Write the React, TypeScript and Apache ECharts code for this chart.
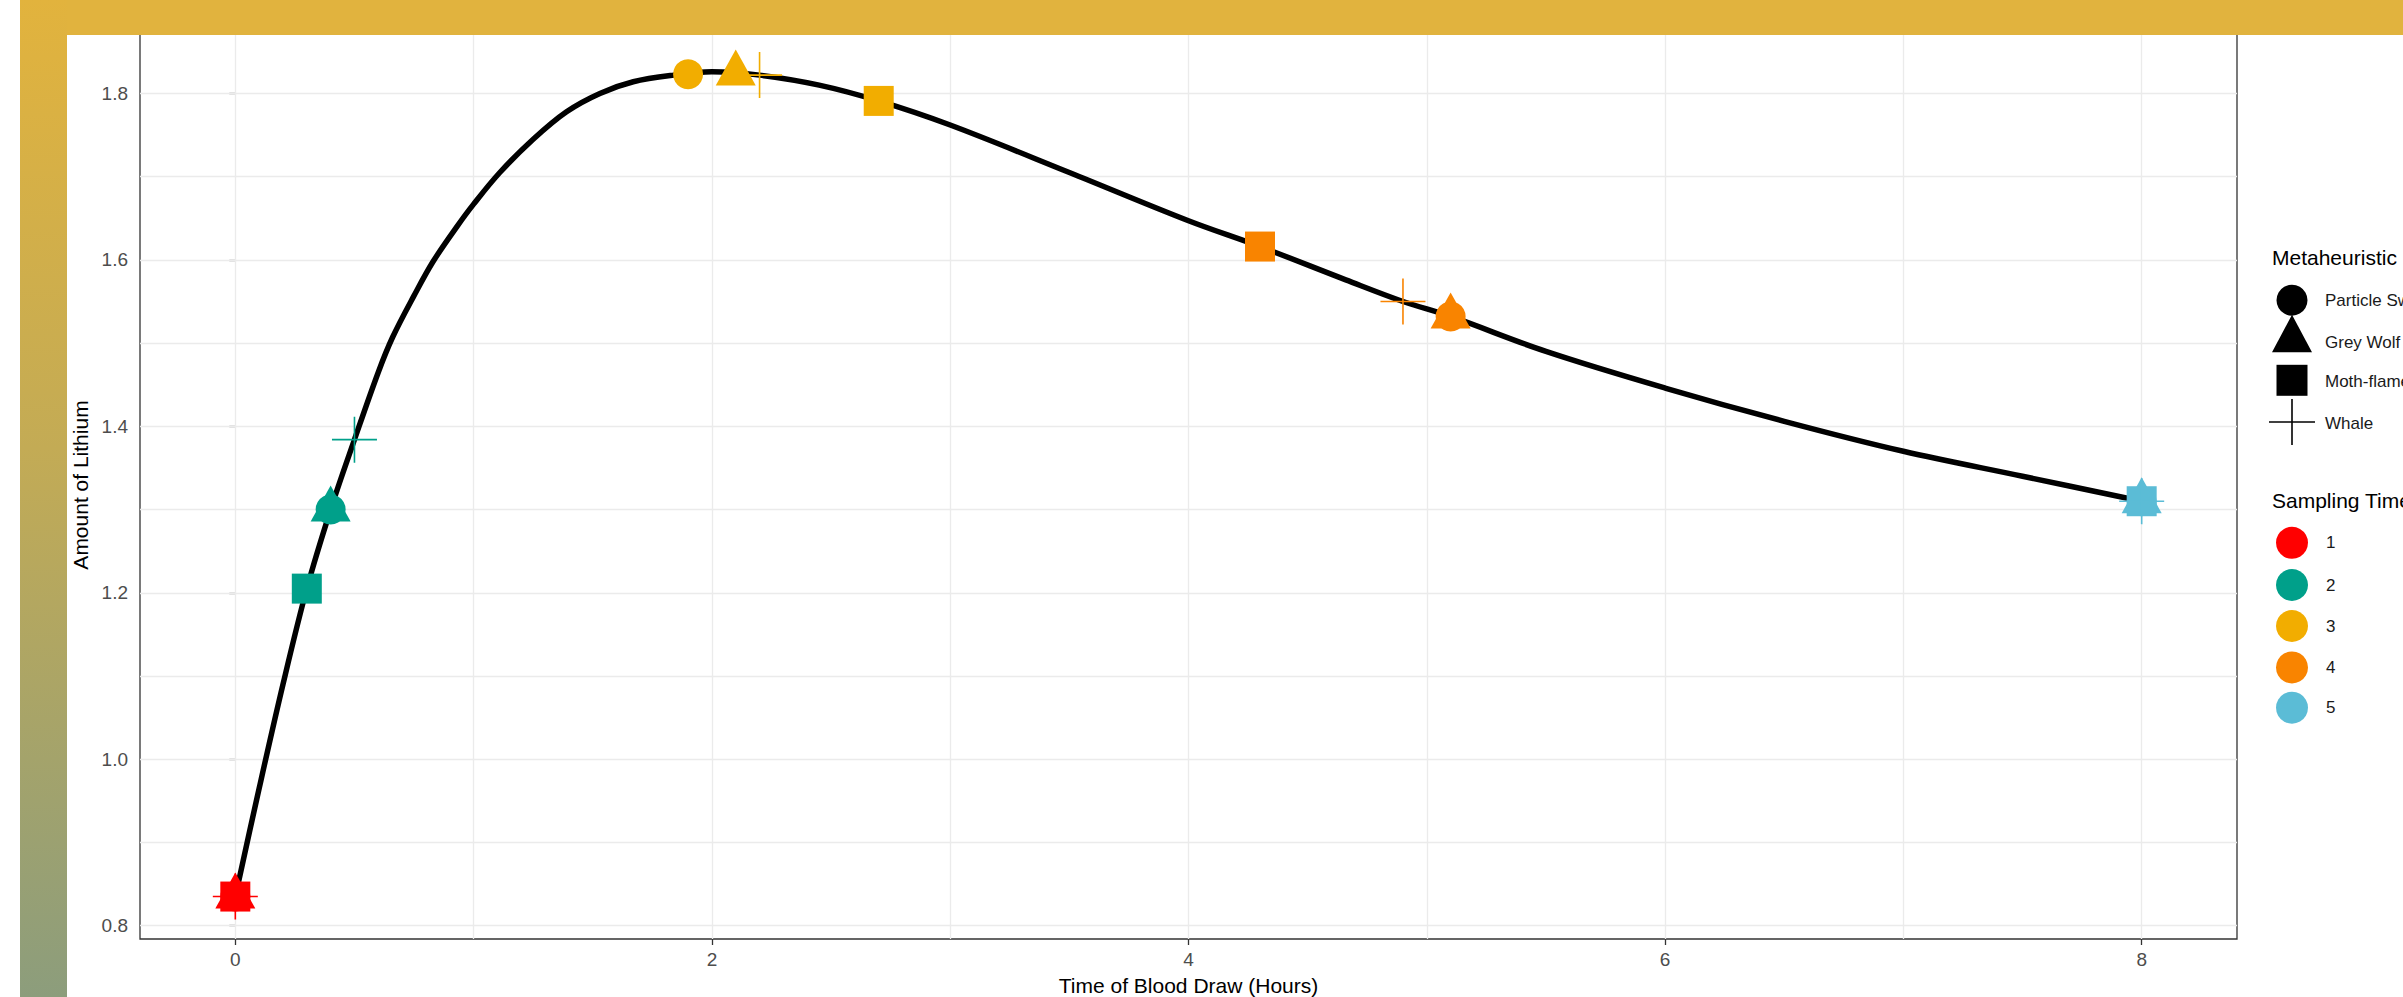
import React, { useEffect, useRef } from "react";
import * as echarts from "echarts";

// Fitted concentration curve
const curveTime = [0, 0.1, 0.2, 0.3, 0.4, 0.5, 0.6, 0.66, 0.75, 0.83, 0.93, 1.0, 1.11, 1.25, 1.39, 1.53, 1.67, 1.84, 2.0, 2.2, 2.45, 2.7, 3.0, 3.5, 4.0, 4.3, 4.66, 4.9, 5.1, 5.5, 6.0, 6.5, 7.0, 7.5, 8.0];
const curveLevel = [0.835, 0.965, 1.09, 1.205, 1.3, 1.384, 1.465, 1.507, 1.557, 1.598, 1.64, 1.667, 1.705, 1.745, 1.778, 1.8, 1.814, 1.822, 1.826, 1.822, 1.81, 1.791, 1.762, 1.705, 1.647, 1.616, 1.576, 1.55, 1.532, 1.49, 1.446, 1.406, 1.37, 1.34, 1.31];

// Metaheuristics
const methodNames = ["Particle Swarm", "Grey Wolf", "Moth-flame", "Whale"];

const psoTime = [0, 0.4, 1.9, 5.1, 8];
const psoLevel = [0.835, 1.3, 1.823, 1.532, 1.31];
const gwoTime = [0, 0.4, 2.1, 5.1, 8];
const gwoLevel = [0.835, 1.3, 1.824, 1.532, 1.31];
const mfoTime = [0, 0.3, 2.7, 4.3, 8];
const mfoLevel = [0.835, 1.205, 1.791, 1.616, 1.31];
const woaTime = [0, 0.5, 2.2, 4.9, 8];
const woaLevel = [0.835, 1.384, 1.822, 1.55, 1.31];
const samplingIndex = [1, 2, 3, 4, 5];

// Sampling times
const samplingLabels = ["1", "2", "3", "4", "5"];
const samplingColors = ["#FF0000", "#00A08A", "#F2AD00", "#F98400", "#5BBCD6"];

// Axes
const xTicks = [0, 2, 4, 6, 8];
const yTicks = [0.8, 1.0, 1.2, 1.4, 1.6, 1.8];
const xGrid = [0, 1, 2, 3, 4, 5, 6, 7, 8];
const yGrid = [0.8, 0.9, 1.0, 1.1, 1.2, 1.3, 1.4, 1.5, 1.6, 1.7, 1.8];
const xRange = [-0.4, 8.4];
const yRange = [0.784, 1.875];

const FONT = "'Liberation Sans', Arial, sans-serif";
const PLUS_PATH = "path://M0,22.2H45V23.8H0Z M21.7,0H23.3V46H21.7Z";

function points(times: number[], levels: number[]) {
  return times.map((t, i) => ({
    value: [t, levels[i]],
    itemStyle: { color: samplingColors[samplingIndex[i] - 1] },
  }));
}

export default function App() {
  const ref = useRef<HTMLDivElement>(null);

  useEffect(() => {
    if (!ref.current) return;
    const chart = echarts.init(ref.current, null, { renderer: "svg" });

    const legendX = 2292;
    const methodRows = [300.7, 342.8, 381.4, 423.5];
    const timeRows = [542.8, 585, 626, 667.4, 707.7];

    const graphics: any[] = [
      // decorative frame
      {
        type: "rect",
        z: 100,
        shape: { x: 20, y: 0, width: 2383, height: 35 },
        style: { fill: "#E1B33E" },
      },
      {
        type: "rect",
        z: 100,
        shape: { x: 20, y: 0, width: 47, height: 997 },
        style: {
          fill: new echarts.graphic.LinearGradient(0, 0, 0, 1, [
            { offset: 0, color: "#E2B33D" },
            { offset: 0.45, color: "#C3AB55" },
            { offset: 1, color: "#8C9D7C" },
          ]),
        },
      },
      // legend: Metaheuristic
      {
        type: "text",
        x: 2272,
        y: 257,
        style: { text: "Metaheuristic", fontSize: 21, fontFamily: FONT, fill: "#000", verticalAlign: "middle" },
      },
      { type: "circle", shape: { cx: legendX, cy: methodRows[0] - 0.5, r: 15.5 }, style: { fill: "#000" } },
      {
        type: "polygon",
        shape: { points: [[legendX, 314.7], [legendX + 20, 352.3], [legendX - 20, 352.3]] },
        style: { fill: "#000" },
      },
      { type: "rect", shape: { x: legendX - 15.5, y: 364.8, width: 31, height: 31 }, style: { fill: "#000" } },
      { type: "line", shape: { x1: legendX - 23, y1: 422, x2: legendX + 23, y2: 422 }, style: { stroke: "#000", lineWidth: 1.6 } },
      { type: "line", shape: { x1: legendX, y1: 399, x2: legendX, y2: 445 }, style: { stroke: "#000", lineWidth: 1.6 } },
      ...methodNames.map((name, i) => ({
        type: "text",
        x: 2325,
        y: methodRows[i],
        style: { text: name, fontSize: 17, fontFamily: FONT, fill: "#1A1A1A", verticalAlign: "middle" },
      })),
      // legend: Sampling Time
      {
        type: "text",
        x: 2272,
        y: 500.7,
        style: { text: "Sampling Time", fontSize: 21, fontFamily: FONT, fill: "#000", verticalAlign: "middle" },
      },
      ...samplingLabels.map((lab, i) => ({
        type: "circle",
        shape: { cx: legendX, cy: timeRows[i], r: 16 },
        style: { fill: samplingColors[i] },
      })),
      ...samplingLabels.map((lab, i) => ({
        type: "text",
        x: 2326,
        y: timeRows[i],
        style: { text: lab, fontSize: 17, fontFamily: FONT, fill: "#1A1A1A", verticalAlign: "middle" },
      })),
    ];

    const scatterBase = {
      type: "scatter",
      z: 3,
      itemStyle: { opacity: 1 },
      emphasis: { disabled: true },
    };

    chart.setOption({
      animation: false,
      backgroundColor: "#FFFFFF",
      textStyle: { fontFamily: FONT },
      grid: {
        left: 140,
        right: 2403 - 2237,
        top: 31,
        bottom: 997 - 939,
        containLabel: false,
        outerBoundsMode: "none",
        show: true,
        borderColor: "#333333",
        borderWidth: 1.3,
        backgroundColor: "transparent",
      },
      xAxis: {
        type: "value",
        min: xRange[0],
        max: xRange[1],
        name: "Time of Blood Draw (Hours)",
        nameLocation: "middle",
        nameGap: 36,
        nameTextStyle: { fontSize: 21, color: "#000", fontFamily: FONT },
        axisLine: { show: false },
        splitLine: { show: false },
        axisTick: { show: true, length: 6, customValues: xTicks, lineStyle: { color: "#333333", width: 1.3 } },
        axisLabel: {
          customValues: xTicks,
          margin: 11,
          fontSize: 19,
          color: "#4D4D4D",
          fontFamily: FONT,
          formatter: (v: number) => String(v),
        },
      },
      yAxis: {
        type: "value",
        min: yRange[0],
        max: yRange[1],
        name: "Amount of Lithium",
        nameLocation: "middle",
        nameGap: 35,
        nameTextStyle: { fontSize: 21, color: "#000", fontFamily: FONT },
        axisLine: { show: false },
        splitLine: { show: false },
        axisTick: { show: true, length: 6, customValues: yTicks, lineStyle: { color: "#333333", width: 1.3 } },
        axisLabel: {
          customValues: yTicks,
          margin: 12,
          fontSize: 19,
          color: "#4D4D4D",
          fontFamily: FONT,
          formatter: (v: number) => v.toFixed(1),
        },
      },
      series: [
        {
          name: "curve",
          type: "line",
          z: 2,
          data: curveTime.map((t, i) => [t, curveLevel[i]]),
          smooth: 0.35,
          showSymbol: false,
          symbol: "none",
          lineStyle: { color: "#000000", width: 5.5 },
          emphasis: { disabled: true },
          markLine: {
            silent: true,
            z: 1,
            symbol: ["none", "none"],
            label: { show: false },
            lineStyle: { color: "#EBEBEB", width: 1.3, type: "solid" },
            emphasis: { disabled: true },
            data: [
              ...yGrid.map((v) => ({ yAxis: v })),
              ...xGrid.map((v) => ({ xAxis: v })),
            ],
          },
        },
        {
          ...scatterBase,
          name: methodNames[0],
          symbol: "circle",
          symbolSize: 30,
          data: points(psoTime, psoLevel),
        },
        {
          ...scatterBase,
          name: methodNames[1],
          symbol: "triangle",
          symbolSize: [40, 36],
          symbolOffset: [0, -6],
          data: points(gwoTime, gwoLevel),
        },
        {
          ...scatterBase,
          name: methodNames[2],
          symbol: "rect",
          symbolSize: 30,
          data: points(mfoTime, mfoLevel),
        },
        {
          ...scatterBase,
          name: methodNames[3],
          symbol: PLUS_PATH,
          symbolSize: [45, 46],
          data: points(woaTime, woaLevel),
        },
      ],
      graphic: graphics,
    });

    return () => chart.dispose();
  }, []);

  return (
    <div
      ref={ref}
      style={{ position: "absolute", left: 0, top: 0, width: 2403, height: 997 }}
    />
  );
}
